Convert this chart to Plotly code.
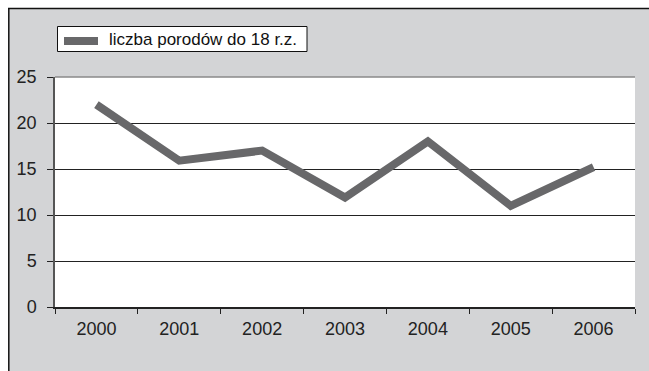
import plotly.graph_objects as go

years = ["2000", "2001", "2002", "2003", "2004", "2005", "2006"]
values = [22.0, 15.9, 17.0, 11.9, 18.0, 11.0, 15.2]
series_name = "liczba porodów do 18 r.z."
y_ticks = [0, 5, 10, 15, 20, 25]

W, H = 649, 371
L, R, T, B = 55, 14, 77, 64
PW, PH = W - L - R, H - T - B

def px(x):
    return (x - L) / PW

def py(y):
    return (H - B - y) / PH

FONT = "Liberation Sans, Arial, sans-serif"
GRAY_BG = "#d3d4d6"
LINE_COLOR = "#68686a"

fig = go.Figure()
fig.add_trace(go.Scatter(
    x=years, y=values, mode="lines", name=series_name,
    line=dict(color=LINE_COLOR, width=8),
    showlegend=False,
))

shapes = [
    # gray frame background
    dict(type="rect", xref="paper", yref="paper", x0=px(9), x1=px(W + 2), y0=py(H + 2), y1=py(8.5),
         fillcolor=GRAY_BG, line=dict(width=0), layer="below"),
    # white plot area
    dict(type="rect", xref="paper", yref="paper", x0=0, x1=1, y0=0, y1=1,
         fillcolor="white", line=dict(width=0), layer="below"),
    # outer border lines
    dict(type="line", xref="paper", yref="paper", x0=px(8), x1=px(W + 2), y0=py(8.5), y1=py(8.5),
         line=dict(color="#111", width=1.5)),
    dict(type="line", xref="paper", yref="paper", x0=px(8.8), x1=px(8.8), y0=py(8), y1=py(H + 2),
         line=dict(color="#111", width=1.5)),
    # top plot border at 25
    dict(type="line", xref="paper", yref="paper", x0=0, x1=1, y0=1, y1=1,
         line=dict(color="#8a8a8a", width=1.5), layer="below"),
    # legend box
    dict(type="rect", xref="paper", yref="paper", x0=px(57.5), x1=px(307), y0=py(51.5), y1=py(26.5),
         fillcolor="white", line=dict(color="#111", width=1)),
    # legend symbol
    dict(type="rect", xref="paper", yref="paper", x0=px(64), x1=px(98), y0=py(45), y1=py(37),
         fillcolor=LINE_COLOR, line=dict(width=0)),
]

annotations = [
    dict(xref="paper", yref="paper", x=px(107), y=py(39.5), xanchor="left", yanchor="middle",
         text=series_name, showarrow=False,
         font=dict(family=FONT, size=17, color="#111")),
]

fig.update_layout(
    width=W, height=H,
    margin=dict(l=L, r=R, t=T, b=B),
    paper_bgcolor="white",
    plot_bgcolor="white",
    font=dict(family=FONT, size=18, color="#222"),
    shapes=shapes,
    annotations=annotations,
    showlegend=False,
    xaxis=dict(
        type="category", range=[-0.5, 6.5],
        tickson="boundaries", ticks="outside", ticklen=5, tickcolor="#222", tickwidth=1,
        showline=True, linecolor="#222", linewidth=1.5,
        showgrid=False, zeroline=False,
        ticklabelstandoff=5,
    ),
    yaxis=dict(
        range=[0, 25], tickvals=y_ticks,
        ticks="outside", ticklen=6, tickcolor="#222", tickwidth=1,
        showline=True, linecolor="#555", linewidth=1.5,
        showgrid=True, gridcolor="#222", gridwidth=1,
        zeroline=False,
        ticklabelstandoff=7,
    ),
)

fig.write_html("out.html")
